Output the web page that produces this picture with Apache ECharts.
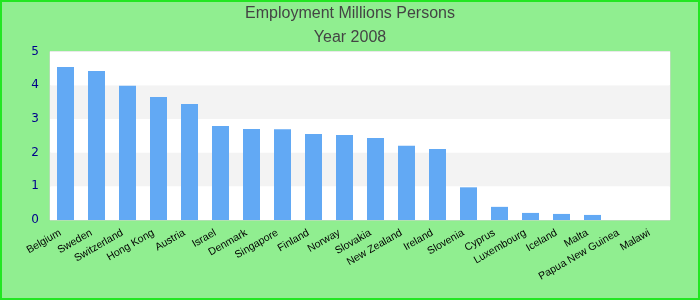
<!DOCTYPE html>
<html>
<head>
<meta charset="utf-8">
<script src="https://cdn.jsdelivr.net/npm/echarts@6/dist/echarts.min.js"></script>
<style>
html,body{margin:0;padding:0;background:#90ee90;}
#chart{width:700px;height:300px;}
</style>
</head>
<body>
<div id="chart"></div>
<script>
const titleText = 'Employment Millions Persons';
const subTitleText = 'Year 2008';
const categories = ['Belgium','Sweden','Switzerland','Hong Kong','Austria','Israel','Denmark','Singapore','Finland','Norway','Slovakia','New Zealand','Ireland','Slovenia','Cyprus','Luxembourg','Iceland','Malta','Papua New Guinea','Malawi'];
const values = [4.54,4.42,3.98,3.65,3.44,2.79,2.70,2.69,2.55,2.52,2.43,2.20,2.11,0.97,0.39,0.21,0.18,0.15,0,0];
const yTicks = [0,1,2,3,4,5];

const chart = echarts.init(document.getElementById('chart'), null, {renderer:'canvas'});
chart.setOption({
  backgroundColor: '#90ee90',
  animation: false,
  title: [
    {text: titleText, left: 'center', top: 6, padding: 0,
     textStyle: {fontFamily: 'Liberation Sans, Arial', fontSize: 16, fontWeight: 'normal', color: '#444'}},
    {text: subTitleText, left: 'center', top: 30, padding: 0,
     textStyle: {fontFamily: 'Liberation Sans, Arial', fontSize: 16, fontWeight: 'normal', color: '#444'}}
  ],
  graphic: [{
    type: 'rect', silent: true, z: 100,
    shape: {x: 1, y: 1, width: 698, height: 298},
    style: {fill: 'none', stroke: '#22e622', lineWidth: 2}
  }],
  grid: {left: 50, right: 30, top: 51.5, bottom: 80, show: true, backgroundColor: '#fff', borderColor: '#d3d3d3', borderWidth: 1},
  xAxis: {
    type: 'category', data: categories,
    axisLine: {show: false}, axisTick: {show: false},
    axisLabel: {interval: 0, rotate: 30, margin: 9, padding: [0, 6, 0, 0], fontFamily: 'Liberation Sans, Arial', fontSize: 10.5, color: '#000'}
  },
  yAxis: {
    type: 'value', min: yTicks[0], max: yTicks[yTicks.length-1], interval: 1,
    axisLine: {show: false}, axisTick: {show: false},
    splitLine: {show: false},
    splitArea: {show: true, areaStyle: {color: ['#ffffff', '#f3f3f3']}},
    axisLabel: {margin: 11, fontFamily: 'DejaVu Sans', fontSize: 12, color: '#00008b'}
  },
  series: [{
    type: 'bar', data: values, barWidth: 17,
    itemStyle: {color: '#62a9f4'}
  }]
});
</script>
</body>
</html>
